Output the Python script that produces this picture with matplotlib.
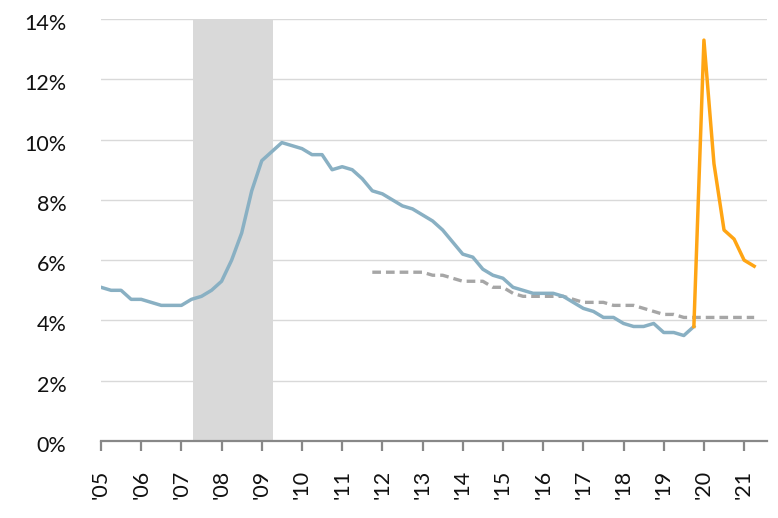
"""Unemployment rate 2005-2021: actual (blue), 2020+ (orange), long-run estimate (dashed)."""
import numpy as np
import matplotlib
matplotlib.use("Agg")
import matplotlib.pyplot as plt
from matplotlib.transforms import ScaledTranslation

plt.rcParams["font.family"] = ["Lato", "DejaVu Sans"]

# quarterly series, first point at 2005Q1
blue_start = 2005.0
blue_vals = [5.1, 5.0, 5.0, 4.7,
             4.7, 4.6, 4.5, 4.5,
             4.5, 4.7, 4.8, 5.0,
             5.3, 6.0, 6.9, 8.3,
             9.3, 9.6, 9.9, 9.8,
             9.7, 9.5, 9.5, 9.0,
             9.1, 9.0, 8.7, 8.3,
             8.2, 8.0, 7.8, 7.7,
             7.5, 7.3, 7.0, 6.6,
             6.2, 6.1, 5.7, 5.5,
             5.4, 5.1, 5.0, 4.9,
             4.9, 4.9, 4.8, 4.6,
             4.4, 4.3, 4.1, 4.1,
             3.9, 3.8, 3.8, 3.9,
             3.6, 3.6, 3.5, 3.8]

orange_start = 2019.75
orange_vals = [3.8, 13.3, 9.2, 7.0, 6.7, 6.0, 5.8]

dash_start = 2011.75
dash_vals = [5.6,
             5.6, 5.6, 5.6, 5.6,
             5.6, 5.5, 5.5, 5.4,
             5.3, 5.3, 5.3, 5.1,
             5.1, 4.9, 4.8, 4.8,
             4.8, 4.8, 4.8, 4.7,
             4.6, 4.6, 4.6, 4.5,
             4.5, 4.5, 4.4, 4.3,
             4.2, 4.2, 4.1, 4.1,
             4.1, 4.1, 4.1, 4.1,
             4.1, 4.1]

recession = (2007.3, 2009.27)
years = list(range(2005, 2022))
yticks = [0, 2, 4, 6, 8, 10, 12, 14]


def qx(start, vals):
    return start + 0.25 * np.arange(len(vals))


fig = plt.figure(figsize=(7.78, 5.18), dpi=100)
ax = fig.add_axes([0.1298, 0.1486, 0.8561, 0.8147])

ax.axvspan(*recession, color="#d9d9d9", lw=0, zorder=1)
ax.plot(qx(dash_start, dash_vals), dash_vals, color="#a6a6a6", lw=2.4,
        dashes=(2.6, 1.5), zorder=3)
ax.plot(qx(blue_start, blue_vals), blue_vals, color="#89b0c3", lw=2.5,
        solid_joinstyle="round", zorder=4)
ax.plot(qx(orange_start, orange_vals), orange_vals, color="#ffa514", lw=2.5,
        solid_joinstyle="round", zorder=5)

ax.set_xlim(2005.0, 2021.57)
ax.set_ylim(0, 14)
ax.set_yticks(yticks)
ax.set_yticklabels([f"{v}%" for v in yticks])
ax.set_xticks(years)
ax.set_xticklabels([f"'{y % 100:02d}" for y in years], rotation=90)
ax.yaxis.grid(True, color="#d9d9d9", lw=1)
ax.set_axisbelow(True)

for s in ["left", "right", "top"]:
    ax.spines[s].set_visible(False)
ax.spines["bottom"].set_color("#888888")
ax.spines["bottom"].set_linewidth(1.6)
ax.tick_params(axis="y", length=0, pad=25, labelsize=15.5, labelcolor="#111111")
ax.tick_params(axis="x", length=7.5, width=1.6, color="#888888", pad=13,
               labelsize=15.5, labelcolor="#111111")
# labels sit a touch below their gridlines in the original
shift = ScaledTranslation(0, -3 / 100, fig.dpi_scale_trans)
for lbl in ax.get_yticklabels():
    lbl.set_transform(lbl.get_transform() + shift)

fig.savefig("out.png", dpi=100)
